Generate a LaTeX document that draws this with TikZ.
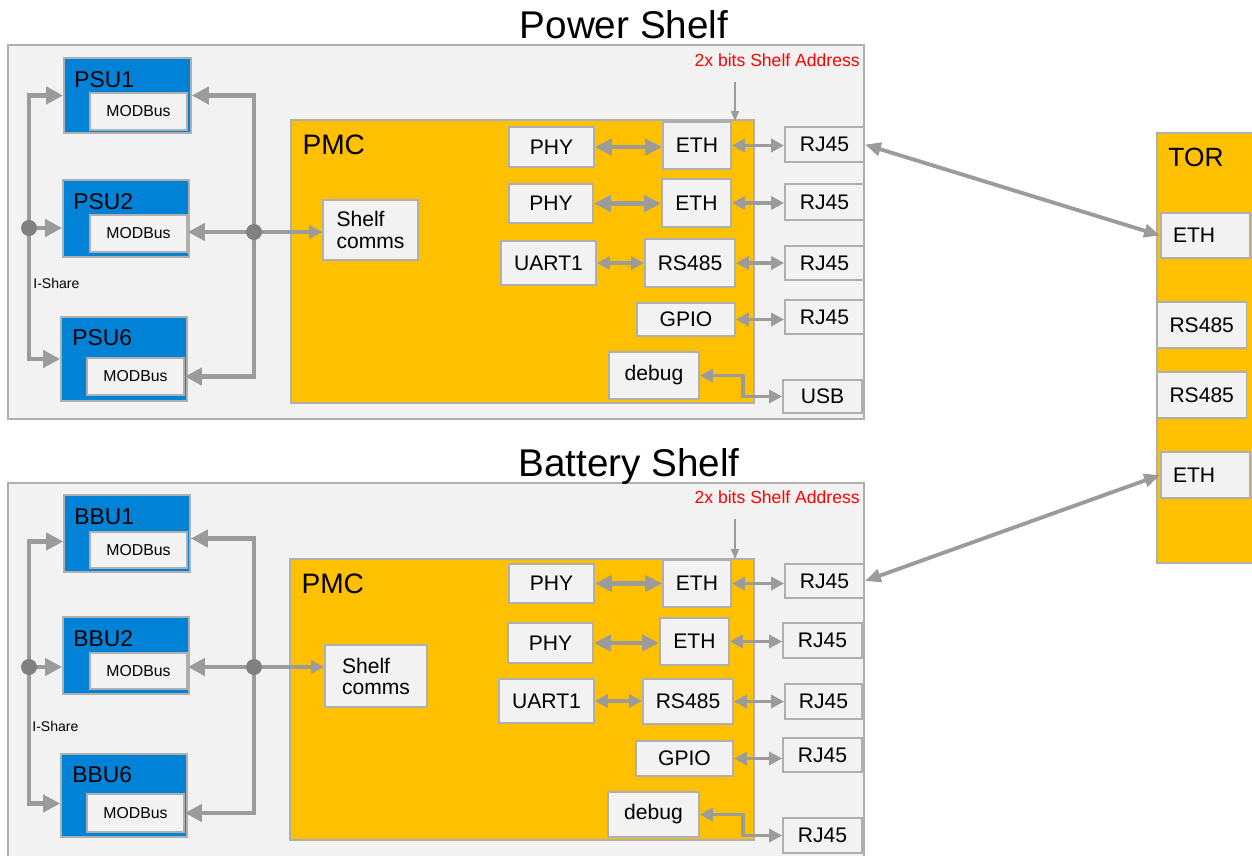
\documentclass[tikz,border=0pt]{standalone}
\usepackage{fontspec}
\setmainfont{Liberation Sans}
\usepackage{xcolor}
\usetikzlibrary{arrows.meta, positioning}

\definecolor{shelfgray}{RGB}{242,242,242}
\definecolor{edgegray}{RGB}{175,175,175}
\definecolor{wiregray}{RGB}{155,155,155}
\definecolor{dotgray}{RGB}{128,128,128}
\definecolor{unitblue}{RGB}{0,131,214}
\definecolor{pmcorange}{RGB}{255,192,0}
\definecolor{addrred}{RGB}{255,0,0}
\newcommand{\fsz}[1]{\fontsize{#1}{#1}\selectfont}

\begin{document}
\begin{tikzpicture}[x=0.02cm, y=-0.02cm,
    shelf/.style={rectangle, draw=edgegray, line width=0.8pt, fill=shelfgray},
    unit/.style={rectangle, draw=edgegray, line width=1pt, fill=unitblue},
    pmc/.style={rectangle, draw=edgegray, line width=1pt, fill=pmcorange},
    box/.style={rectangle, draw=edgegray, line width=1pt, fill=shelfgray, inner sep=0pt, font=\fsz{12}},
    mbox/.style={box, font=\fsz{9}},
    torbox/.style={box, text width=1.30cm, align=left, inner xsep=0.24cm},
    title/.style={anchor=base, font=\fsz{22}},
    tag/.style={anchor=north west, inner sep=0pt},
    dot/.style={circle, fill=dotgray, inner sep=0pt, minimum size=0.32cm},
    addr/.style={anchor=east, inner sep=0pt, text=addrred, font=\fsz{10}},
    bus/.style={draw=wiregray, line width=2.8pt, >={Triangle[length=0.34cm, width=0.34cm]}},
    fat/.style={draw=wiregray, line width=2.8pt, >={Triangle[length=0.34cm, width=0.32cm]}},
    wire/.style={draw=wiregray, line width=2.2pt, >={Triangle[length=0.26cm, width=0.26cm]}},
    link/.style={draw=wiregray, line width=2.2pt, >={Triangle[length=0.32cm, width=0.26cm]}},
    fine/.style={draw=wiregray, line width=0.8pt, >={Triangle[length=0.20cm, width=0.16cm]}}]
    \useasboundingbox (0,0) rectangle (1252,856);

    % Power Shelf
    \node[shelf, minimum width=17.12cm, minimum height=7.48cm] (PShelf) at (436,232) {};
    \node[title] (PTitle) at (624,38) {Power Shelf};

    \node[unit, minimum width=2.54cm, minimum height=1.50cm] (PSU1) at (127.5,95.5) {};
    \node[tag, font=\fsz{13}] (PSU1l) at ([xshift=0.22cm, yshift=-0.28cm]PSU1.north west) {PSU1};
    \node[mbox, minimum width=1.94cm, minimum height=0.74cm] (MBa1) at (138.5,111.5) {MODBus};
    \node[unit, minimum width=2.52cm, minimum height=1.54cm] (PSU2) at (126,218.5) {};
    \node[tag, font=\fsz{13}] (PSU2l) at ([xshift=0.22cm, yshift=-0.28cm]PSU2.north west) {PSU2};
    \node[mbox, minimum width=1.94cm, minimum height=0.74cm] (MBa2) at (138.5,233.5) {MODBus};
    \node[unit, minimum width=2.52cm, minimum height=1.68cm] (PSU6) at (124,359) {};
    \node[tag, font=\fsz{13}] (PSU6l) at ([xshift=0.24cm, yshift=-0.26cm]PSU6.north west) {PSU6};
    \node[mbox, minimum width=1.94cm, minimum height=0.74cm] (MBa6) at (135.5,376.5) {MODBus};
    \node[anchor=west, inner sep=0pt, font=\fsz{8}] (IShareA) at (33,283) {I-Share};

    \node[pmc, minimum width=9.26cm, minimum height=5.66cm] (PMCa) at (522.5,261.5) {};
    \node[tag, font=\fsz{16}] (PMCal) at ([xshift=0.24cm, yshift=-0.30cm]PMCa.north west) {PMC};
    \node[box, minimum width=1.90cm, minimum height=1.20cm, align=left] (CommsA) at (370.5,230) {Shelf\\comms};
    \node[box, minimum width=1.70cm, minimum height=0.80cm] (PHYa1) at (551.5,147) {PHY};
    \node[box, minimum width=1.36cm, minimum height=0.94cm] (ETHa1) at (697,145.5) {ETH};
    \node[box, minimum width=1.68cm, minimum height=0.78cm] (PHYa2) at (551,203.5) {PHY};
    \node[box, minimum width=1.38cm, minimum height=0.96cm] (ETHa2) at (696.5,203) {ETH};
    \node[box, minimum width=1.90cm, minimum height=0.88cm] (UARTa) at (548.5,263) {UART1};
    \node[box, minimum width=1.80cm, minimum height=0.96cm] (RSa) at (690,263) {RS485};
    \node[box, minimum width=1.96cm, minimum height=0.66cm] (GPIOa) at (686,319.5) {GPIO};
    \node[box, minimum width=1.80cm, minimum height=0.94cm] (DBGa) at (654,375.5) {debug};

    \node[box, minimum width=1.58cm, minimum height=0.70cm] (RJa1) at (824.5,144.5) {RJ45};
    \node[box, minimum width=1.58cm, minimum height=0.72cm] (RJa2) at (824.5,202) {RJ45};
    \node[box, minimum width=1.58cm, minimum height=0.68cm] (RJa3) at (824.5,263) {RJ45};
    \node[box, minimum width=1.58cm, minimum height=0.68cm] (RJa4) at (824.5,317) {RJ45};
    \node[box, minimum width=1.58cm, minimum height=0.66cm] (USBa) at (822.5,396.5) {USB};

    \node[addr] (AddrA) at (860,60) {2x bits Shelf Address};
    \coordinate (AddrTopA) at (735,82);
    \draw[fine, ->] (AddrTopA) -- (AddrTopA |- ETHa1.north);

    \coordinate (IsA) at (29,228);
    \draw[bus, ->] (IsA) |- (PSU1.west);
    \draw[bus, ->] (IsA) -- (IsA -| PSU2.west);
    \draw[bus, ->] (IsA) |- (PSU6.west);
    \coordinate (MbA) at (254,232);
    \draw[bus, ->] (MbA) |- (PSU1.east);
    \draw[bus, ->] (MbA) -- (MbA -| MBa2.east);
    \draw[bus, ->] (MbA) |- (MBa6.east);
    \draw[wire, ->] (MbA) -- (MbA -| CommsA.west);
    \node[dot] (IsDotA) at (IsA) {};
    \node[dot] (MbDotA) at (MbA) {};

    \draw[fat, <->] (PHYa1.east) -- (PHYa1.east -| ETHa1.west);
    \draw[wire, <->] (ETHa1.east) -- (ETHa1.east -| RJa1.west);
    \draw[fat, <->] (PHYa2.east) -- (PHYa2.east -| ETHa2.west);
    \draw[wire, <->] (ETHa2.east) -- (ETHa2.east -| RJa2.west);
    \draw[wire, <->] (UARTa.east) -- (UARTa.east -| RSa.west);
    \draw[wire, <->] (RSa.east) -- (RSa.east -| RJa3.west);
    \draw[wire, <->] (GPIOa.east) -- (GPIOa.east -| RJa4.west);
    \draw[wire, <->] (DBGa.east) -- ++(43,0) |- (USBa.west);

    % Battery Shelf
    \node[shelf, minimum width=17.12cm, minimum height=7.58cm] (BShelf) at (436,672.5) {};
    \node[title] (BTitle) at (629,476) {Battery Shelf};

    \node[unit, minimum width=2.52cm, minimum height=1.54cm] (BBU1) at (127,533.5) {};
    \node[tag, font=\fsz{13}] (BBU1l) at ([xshift=0.22cm, yshift=-0.28cm]BBU1.north west) {BBU1};
    \node[mbox, minimum width=1.94cm, minimum height=0.72cm] (MBb1) at (138.5,550) {MODBus};
    \node[unit, minimum width=2.52cm, minimum height=1.54cm] (BBU2) at (126,655.5) {};
    \node[tag, font=\fsz{13}] (BBU2l) at ([xshift=0.22cm, yshift=-0.28cm]BBU2.north west) {BBU2};
    \node[mbox, minimum width=1.94cm, minimum height=0.72cm] (MBb2) at (138.5,671) {MODBus};
    \node[unit, minimum width=2.52cm, minimum height=1.66cm] (BBU6) at (124,795.5) {};
    \node[tag, font=\fsz{13}] (BBU6l) at ([xshift=0.24cm, yshift=-0.26cm]BBU6.north west) {BBU6};
    \node[mbox, minimum width=1.94cm, minimum height=0.76cm] (MBb6) at (135.5,813) {MODBus};
    \node[anchor=west, inner sep=0pt, font=\fsz{8}] (IShareB) at (32,726) {I-Share};

    \node[pmc, minimum width=9.28cm, minimum height=5.62cm] (PMCb) at (522,699.5) {};
    \node[tag, font=\fsz{16}] (PMCbl) at ([xshift=0.24cm, yshift=-0.30cm]PMCb.north west) {PMC};
    \node[box, minimum width=2.04cm, minimum height=1.24cm, align=left] (CommsB) at (376,676) {Shelf\\comms};
    \node[box, minimum width=1.70cm, minimum height=0.78cm] (PHYb1) at (551.5,583.5) {PHY};
    \node[box, minimum width=1.36cm, minimum height=0.94cm] (ETHb1) at (697,583.5) {ETH};
    \node[box, minimum width=1.70cm, minimum height=0.80cm] (PHYb2) at (550.5,643) {PHY};
    \node[box, minimum width=1.38cm, minimum height=0.94cm] (ETHb2) at (694.5,641.5) {ETH};
    \node[box, minimum width=1.90cm, minimum height=0.88cm] (UARTb) at (546.5,701) {UART1};
    \node[box, minimum width=1.80cm, minimum height=0.90cm] (RSb) at (688,701.5) {RS485};
    \node[box, minimum width=1.94cm, minimum height=0.70cm] (GPIOb) at (684.5,758.5) {GPIO};
    \node[box, minimum width=1.82cm, minimum height=0.90cm] (DBGb) at (653.5,814.5) {debug};

    \node[box, minimum width=1.58cm, minimum height=0.68cm] (RJb1) at (824.5,581) {RJ45};
    \node[box, minimum width=1.58cm, minimum height=0.70cm] (RJb2) at (822.5,640.5) {RJ45};
    \node[box, minimum width=1.54cm, minimum height=0.70cm] (RJb3) at (823.5,701.5) {RJ45};
    \node[box, minimum width=1.58cm, minimum height=0.68cm] (RJb4) at (822.5,755) {RJ45};
    \node[box, minimum width=1.58cm, minimum height=0.70cm] (RJb5) at (822.5,835.5) {RJ45};

    \node[addr] (AddrB) at (860,497) {2x bits Shelf Address};
    \coordinate (AddrTopB) at (735,519);
    \draw[fine, ->] (AddrTopB) -- (AddrTopB |- ETHb1.north);

    \coordinate (IsB) at (29,667);
    \draw[bus, ->] (IsB) |- ([yshift=-0.16cm]BBU1.west);
    \draw[bus, ->] (IsB) -- (IsB -| BBU2.west);
    \draw[bus, ->] (IsB) |- ([yshift=-0.16cm]BBU6.west);
    \coordinate (MbB) at (254,667);
    \draw[bus, ->] (MbB) |- ([yshift=-0.10cm]BBU1.east);
    \draw[bus, ->] (MbB) -- (MbB -| MBb2.east);
    \draw[bus, ->] (MbB) |- (MBb6.east);
    \draw[wire, ->] (MbB) -- (MbB -| CommsB.west);
    \node[dot] (IsDotB) at (IsB) {};
    \node[dot] (MbDotB) at (MbB) {};

    \draw[fat, <->] (PHYb1.east) -- (PHYb1.east -| ETHb1.west);
    \draw[wire, <->] (ETHb1.east) -- (ETHb1.east -| RJb1.west);
    \draw[fat, <->] (PHYb2.east) -- (PHYb2.east -| ETHb2.west);
    \draw[wire, <->] (ETHb2.east) -- (ETHb2.east -| RJb2.west);
    \draw[wire, <->] (UARTb.east) -- (UARTb.east -| RSb.west);
    \draw[wire, <->] (RSb.east) -- (RSb.east -| RJb3.west);
    \draw[wire, <->] (GPIOb.east) -- (GPIOb.east -| RJb4.west);
    \draw[wire, <->] (DBGb.east) -- ++(43,0) |- (RJb5.west);

    % TOR
    \node[pmc, minimum width=1.94cm, minimum height=8.60cm] (TOR) at (1205.5,348) {};
    \node[tag, font=\fsz{15}] (TORl) at ([xshift=0.24cm, yshift=-0.32cm]TOR.north west) {TOR};
    \node[torbox, minimum height=0.90cm] (TorEth1) at (1205.5,235.5) {ETH};
    \node[torbox, minimum height=0.92cm] (TorRs1) at (1202,325) {RS485};
    \node[torbox, minimum height=0.92cm] (TorRs2) at (1202,395) {RS485};
    \node[torbox, minimum height=0.92cm] (TorEth2) at (1205.5,475) {ETH};

    \draw[link, <->] (RJa1.east) -- (TorEth1.west);
    \draw[link, <->] (RJb1.east) -- (TorEth2.west);
\end{tikzpicture}
\end{document}
